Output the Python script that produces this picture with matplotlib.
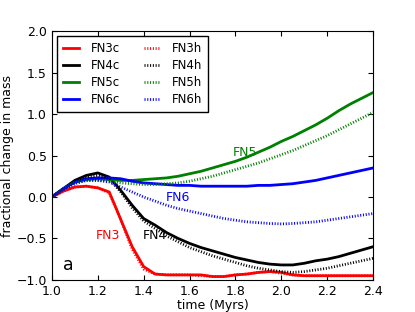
import matplotlib
matplotlib.use('Agg')
import matplotlib.pyplot as plt

# time axis (Myrs)
t = [1.0, 1.05, 1.1, 1.15, 1.2, 1.25, 1.3, 1.35, 1.4, 1.45, 1.5, 1.55, 1.6, 1.65,
     1.7, 1.75, 1.8, 1.85, 1.9, 1.95, 2.0, 2.05, 2.1, 2.15, 2.2, 2.25, 2.3, 2.35, 2.4]

# fractional change in mass
fn3c = [0.0, 0.07, 0.12, 0.13, 0.11, 0.06, -0.27, -0.6, -0.84, -0.93, -0.94, -0.94, -0.94, -0.94,
        -0.96, -0.96, -0.94, -0.93, -0.91, -0.9, -0.91, -0.94, -0.95, -0.95, -0.95, -0.95, -0.95, -0.95, -0.95]
fn3h = [0.0, 0.07, 0.12, 0.13, 0.11, 0.05, -0.27, -0.63, -0.87, -0.93, -0.94, -0.94, -0.94, -0.95,
        -0.96, -0.96, -0.94, -0.93, -0.91, -0.9, -0.92, -0.94, -0.95, -0.95, -0.95, -0.95, -0.95, -0.95, -0.95]
fn4c = [0.0, 0.1, 0.2, 0.26, 0.29, 0.24, 0.08, -0.1, -0.26, -0.34, -0.43, -0.5, -0.56, -0.61,
        -0.65, -0.69, -0.73, -0.76, -0.79, -0.81, -0.82, -0.82, -0.8, -0.77, -0.75, -0.72, -0.68, -0.64, -0.6]
fn4h = [0.0, 0.1, 0.19, 0.24, 0.26, 0.22, 0.06, -0.13, -0.29, -0.38, -0.47, -0.54, -0.61, -0.66,
        -0.71, -0.75, -0.79, -0.83, -0.86, -0.88, -0.9, -0.91, -0.9, -0.88, -0.86, -0.83, -0.8, -0.77, -0.74]
fn5c = [0.0, 0.1, 0.18, 0.21, 0.22, 0.21, 0.2, 0.2, 0.21, 0.22, 0.23, 0.25, 0.28, 0.31,
        0.35, 0.39, 0.43, 0.48, 0.54, 0.6, 0.67, 0.73, 0.8, 0.87, 0.95, 1.04, 1.12, 1.19, 1.26]
fn5h = [0.0, 0.1, 0.17, 0.2, 0.2, 0.19, 0.17, 0.16, 0.15, 0.15, 0.16, 0.17, 0.19, 0.22,
        0.25, 0.29, 0.33, 0.37, 0.41, 0.46, 0.51, 0.56, 0.62, 0.68, 0.74, 0.81, 0.88, 0.95, 1.02]
fn6c = [0.0, 0.1, 0.18, 0.22, 0.23, 0.23, 0.22, 0.19, 0.17, 0.16, 0.15, 0.14, 0.14, 0.13,
        0.13, 0.13, 0.13, 0.13, 0.14, 0.14, 0.15, 0.16, 0.18, 0.2, 0.23, 0.26, 0.29, 0.32, 0.35]
fn6h = [0.0, 0.09, 0.16, 0.2, 0.2, 0.18, 0.12, 0.06, 0.0, -0.05, -0.1, -0.14, -0.17, -0.2,
        -0.23, -0.26, -0.28, -0.3, -0.31, -0.32, -0.325, -0.32, -0.31, -0.3, -0.28, -0.26, -0.24, -0.22, -0.2]

plt.rcParams['xtick.direction'] = 'in'
plt.rcParams['ytick.direction'] = 'in'
plt.rcParams['xtick.top'] = True
plt.rcParams['ytick.right'] = True
plt.rcParams['lines.scale_dashes'] = False
plt.rcParams['font.size'] = 9

fig = plt.figure(figsize=(4.15, 3.12), dpi=100)
ax = fig.add_axes([0.125, 0.103, 0.774, 0.797])

dot = (0, (0.75, 1.25))  # fine old-style dotted line

ax.plot(t, fn3c, color='r', lw=2, label='FN3c')
ax.plot(t, fn4c, color='k', lw=2, label='FN4c')
ax.plot(t, fn5c, color='g', lw=2, label='FN5c')
ax.plot(t, fn6c, color='b', lw=2, label='FN6c')
ax.plot(t, fn3h, color='r', lw=2, ls=dot, label='FN3h')
ax.plot(t, fn4h, color='k', lw=2, ls=dot, label='FN4h')
ax.plot(t, fn5h, color='g', lw=2, ls=dot, label='FN5h')
ax.plot(t, fn6h, color='b', lw=2, ls=dot, label='FN6h')

ax.text(1.84, 0.54, 'FN5', color='g', ha='center', va='center', fontsize=9)
ax.text(1.55, -0.01, 'FN6', color='b', ha='center', va='center', fontsize=9)
ax.text(1.245, -0.46, 'FN3', color='r', ha='center', va='center', fontsize=9)
ax.text(1.45, -0.46, 'FN4', color='k', ha='center', va='center', fontsize=9)
ax.text(1.07, -0.82, 'a', color='k', ha='center', va='center', fontsize=12.5)

ax.set_xlim(1.0, 2.4)
ax.set_ylim(-1.0, 2.0)
ax.set_xticks([1.0, 1.2, 1.4, 1.6, 1.8, 2.0, 2.2, 2.4])
ax.set_yticks([-1.0, -0.5, 0.0, 0.5, 1.0, 1.5, 2.0])
ax.set_xlabel('time (Myrs)', labelpad=1)
ax.set_ylabel('fractional change in mass', labelpad=2)

leg = ax.legend(loc='upper left', ncol=2, fontsize=8.5, fancybox=False,
                handlelength=1.4, handletextpad=1.0, columnspacing=2.0,
                labelspacing=0.35, borderpad=0.5, borderaxespad=0.4)
leg.get_frame().set_edgecolor('k')
leg.get_frame().set_alpha(1)

fig.savefig('out.png', dpi=100)
